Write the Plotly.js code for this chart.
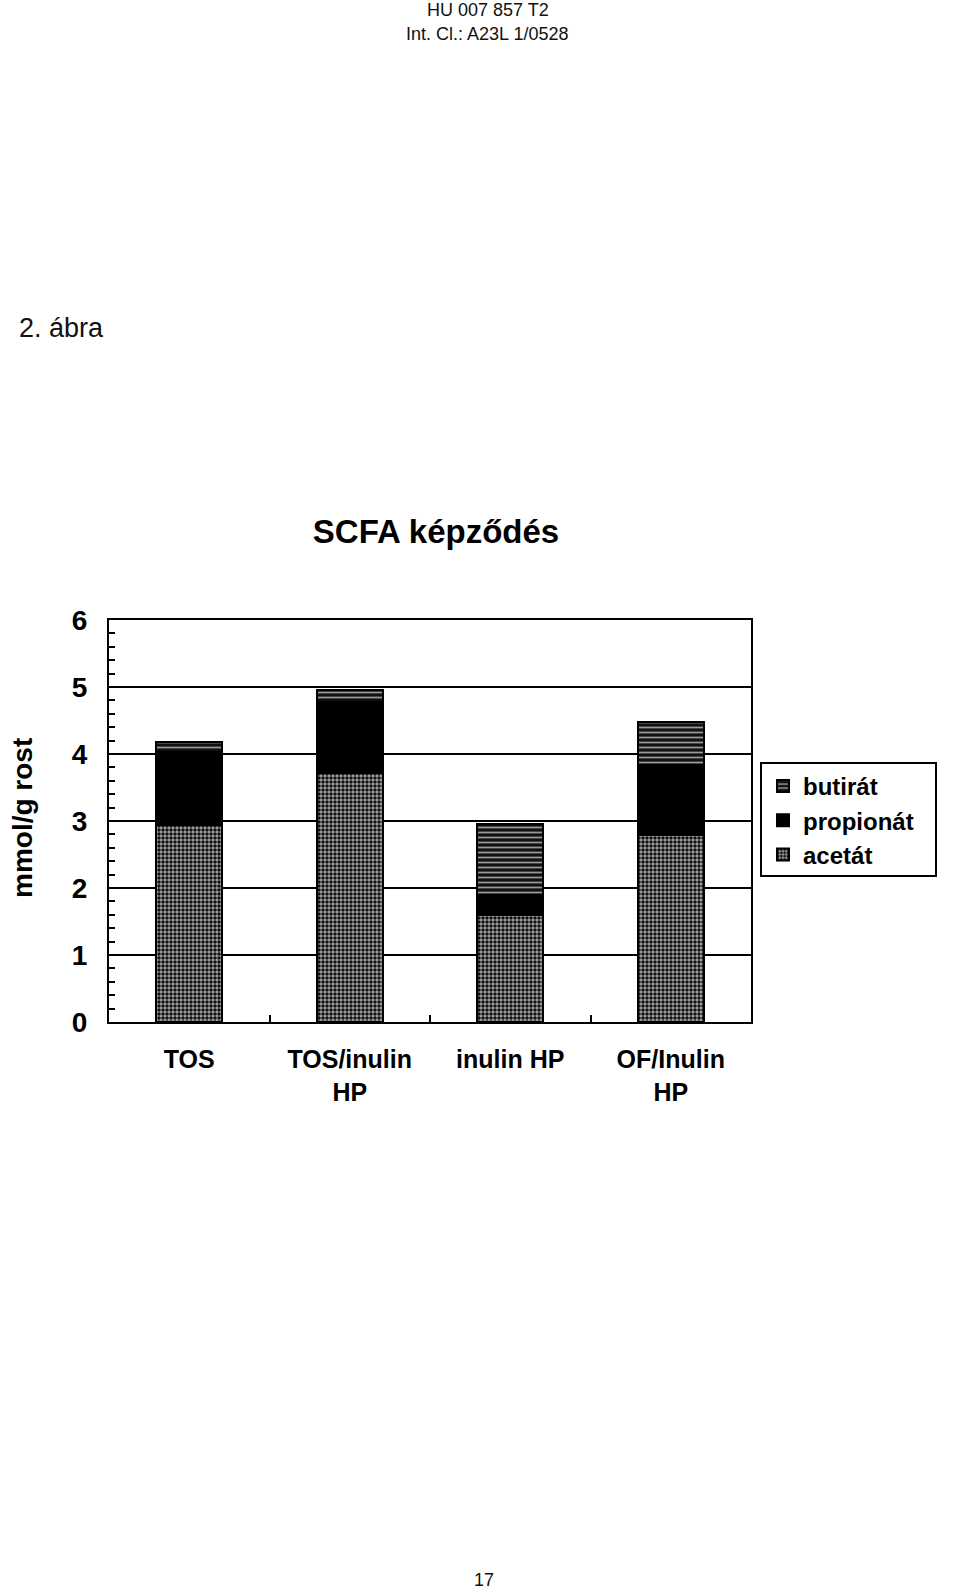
<!DOCTYPE html>
<html>
<head>
<meta charset="utf-8">
<script src="https://cdn.plot.ly/plotly-3.0.1.min.js"></script>
<style>
html,body{margin:0;padding:0;background:#fff;}
#chart{width:960px;height:1589px;}
</style>
</head>
<body>
<div id="chart"></div>
<script>
const categories = ["TOS", "TOS/inulin<br>HP", "inulin HP", "OF/Inulin<br>HP"];
const acetat = [2.94, 3.72, 1.60, 2.79];
const propionat = [1.09, 1.06, 0.30, 1.05];
const butirat = [0.15, 0.18, 1.06, 0.64];
const yTicks = [0, 1, 2, 3, 4, 5, 6];
const seriesNames = ["acetát", "propionát", "butirát"];

const H = 1589, W = 960;
const py = p => 1 - p / H;
const px = p => p / W;
const FONT = "Liberation Sans, Arial, Helvetica, sans-serif";

const outline = {color: "#000", width: 2};
const traces = [
  {
    type: "bar", name: seriesNames[0], x: categories, y: acetat,
    marker: {color: "#7a7a7a", line: outline,
      pattern: {shape: ".", fgcolor: "#111", bgcolor: "#a8a8a8", size: 4, solidity: 0.6}}
  },
  {
    type: "bar", name: seriesNames[1], x: categories, y: propionat,
    marker: {color: "#000", line: outline}
  },
  {
    type: "bar", name: seriesNames[2], x: categories, y: butirat,
    marker: {color: "#000", line: outline,
      pattern: {shape: "-", fgcolor: "#9a9a9a", bgcolor: "#111", size: 5, solidity: 0.35}}
  }
];

const layout = {
  width: W, height: H,
  margin: {l: 0, r: 0, t: 0, b: 0},
  paper_bgcolor: "#fff", plot_bgcolor: "#fff",
  barmode: "stack",
  bargap: 0.59,
  font: {family: FONT, color: "#000"},
  showlegend: true,
  legend: {
    x: px(763), y: py(764), xanchor: "left", yanchor: "top",
    borderwidth: 0, bgcolor: "rgba(0,0,0,0)",
    font: {family: FONT, size: 24, weight: "bold", color: "#000"},
    traceorder: "reversed", tracegroupgap: 0
  },
  shapes: [
    {type: "rect", xref: "paper", yref: "paper",
     x0: px(761), x1: px(936), y0: py(876), y1: py(763),
     line: {color: "#000", width: 2}, fillcolor: "rgba(0,0,0,0)", layer: "below"}
  ],
  title: {
    text: "SCFA képződés",
    x: px(436), y: py(531), xanchor: "center", yanchor: "middle", xref: "paper", yref: "paper",
    font: {family: FONT, size: 33, weight: "bold", color: "#000"}
  },
  xaxis: {
    domain: [px(109), px(751)],
    type: "category",
    showline: true, linecolor: "#000", linewidth: 2, mirror: true,
    ticks: "inside", tickson: "boundaries", ticklen: 7, tickwidth: 2, tickcolor: "#000",
    showgrid: false,
    ticklabelstandoff: 14,
    tickfont: {family: FONT, size: 25, weight: "bold", color: "#000"},
    fixedrange: true
  },
  yaxis: {
    domain: [py(1022), py(620)],
    range: [0, 6],
    tickvals: yTicks, ticktext: yTicks.map(String),
    showline: true, linecolor: "#000", linewidth: 2, mirror: true,
    ticks: "inside", ticklen: 7, tickwidth: 2, tickcolor: "#000",
    minor: {dtick: 0.2, ticks: "inside", ticklen: 6, tickwidth: 2, tickcolor: "#000", showgrid: false},
    showgrid: true, gridcolor: "#000", gridwidth: 1.5,
    zeroline: false,
    ticklabelstandoff: 14,
    tickfont: {family: FONT, size: 28, weight: "bold", color: "#000"},
    fixedrange: true
  },
  annotations: [
    {text: "HU 007 857 T2", x: px(488), y: py(10), xref: "paper", yref: "paper",
     xanchor: "center", yanchor: "middle", showarrow: false,
     font: {family: FONT, size: 18, color: "#111"}},
    {text: "Int. Cl.: A23L 1/0528", x: px(487), y: py(34), xref: "paper", yref: "paper",
     xanchor: "center", yanchor: "middle", showarrow: false,
     font: {family: FONT, size: 18, color: "#111"}},
    {text: "2. ábra", x: px(17), y: py(328), xref: "paper", yref: "paper",
     xanchor: "left", yanchor: "middle", showarrow: false,
     font: {family: FONT, size: 27, color: "#111"}},
    {text: "mmol/g rost", x: px(22), y: py(818), xref: "paper", yref: "paper",
     xanchor: "center", yanchor: "middle", showarrow: false, textangle: -90,
     font: {family: FONT, size: 28, weight: "bold", color: "#000"}},
    {text: "17", x: px(484), y: py(1580), xref: "paper", yref: "paper",
     xanchor: "center", yanchor: "middle", showarrow: false,
     font: {family: FONT, size: 18, color: "#111"}}
  ]
};

Plotly.newPlot("chart", traces, layout, {staticPlot: true, displayModeBar: false});
</script>
</body>
</html>
